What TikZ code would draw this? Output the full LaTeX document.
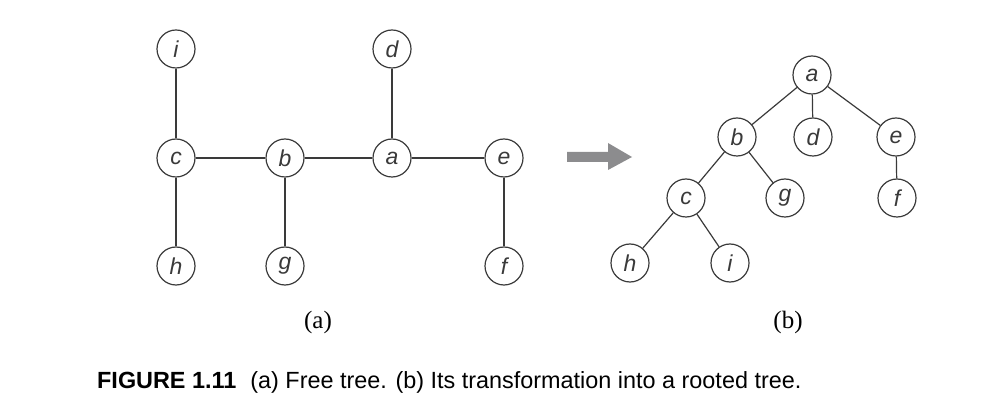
\documentclass[tikz,border=0pt]{standalone}
\usepackage{fontspec}
\setmainfont{Liberation Serif}
\newfontfamily\capfont{Liberation Sans}
\newfontfamily\lblfont{Liberation Sans}
\usetikzlibrary{calc}
\definecolor{edgecol}{HTML}{3A3A3A}
\definecolor{arrowgray}{HTML}{8C8C8E}
\tikzset{
  vtx/.style={circle, draw=edgecol, line width=1.2pt, minimum size=38pt, inner sep=0pt,
    font=\lblfont\itshape\fontsize{23}{23}\selectfont, text=edgecol},
  edge/.style={draw=edgecol, line width=1.2pt},
  sublbl/.style={font=\fontsize{25}{25}\selectfont, text=black},
}
\begin{document}
\begin{tikzpicture}[x=1pt, y=-1pt]
\useasboundingbox (0,0) rectangle (982,419);
% (a) free tree
\node[vtx] (Li) at (176,49) {i};
\node[vtx] (Lc) at (176,158) {c};
\node[vtx] (Lb) at (285,158) {b};
\node[vtx] (La) at (392,158) {a};
\node[vtx] (Ld) at (392,49) {d};
\node[vtx] (Le) at (504,158) {e};
\node[vtx] (Lh) at (176,266) {h};
\node[vtx] (Lg) at (285,266) {g};
\node[vtx] (Lf) at (504,266) {f};
\draw[edge] (Li) -- (Lc);
\draw[edge] (Lc) -- (Lb);
\draw[edge] (Lb) -- (La);
\draw[edge] (La) -- (Le);
\draw[edge] (Ld) -- (La);
\draw[edge] (Lc) -- (Lh);
\draw[edge] (Lb) -- (Lg);
\draw[edge] (Le) -- (Lf);
% arrow
\fill[arrowgray] (567,152) -- (608,152) -- (608,143) -- (632,157) -- (608,170) -- (608,162) -- (567,162) -- cycle;
% (b) rooted tree
\node[vtx] (Ra) at (812,75) {a};
\node[vtx] (Rb) at (737,137) {b};
\node[vtx] (Rd) at (813,137) {d};
\node[vtx] (Re) at (896,137) {e};
\node[vtx] (Rc) at (686,198) {c};
\node[vtx] (Rg) at (785,198) {g};
\node[vtx] (Rf) at (897,198) {f};
\node[vtx] (Rh) at (630,263) {h};
\node[vtx] (Ri) at (730,263) {i};
\draw[edge] (Ra) -- (Rb);
\draw[edge] (Ra) -- (Rd);
\draw[edge] (Ra) -- (Re);
\draw[edge] (Rb) -- (Rc);
\draw[edge] (Rb) -- (Rg);
\draw[edge] (Re) -- (Rf);
\draw[edge] (Rc) -- (Rh);
\draw[edge] (Rc) -- (Ri);
% sub labels
\node[sublbl] (capa) at (318,322) {(a)};
\node[sublbl] (capb) at (788,322) {(b)};
% caption
\node[anchor=base west, inner sep=0pt, font=\capfont\fontsize{23.4}{23.4}\selectfont, text=black] (caption) at (97,388)
  {\textbf{FIGURE 1.11}\hspace{0.6em}(a) Free tree. (b) Its transformation into a rooted tree.};
\end{tikzpicture}
\end{document}
